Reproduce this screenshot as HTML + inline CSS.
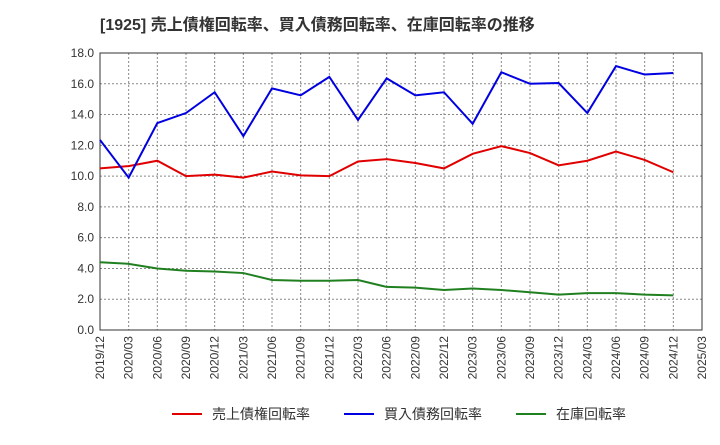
<!DOCTYPE html>
<html><head><meta charset="utf-8"><style>
body{margin:0;background:#fff;font-family:"Liberation Sans","Noto Sans CJK JP",sans-serif}
</style></head><body>
<svg width="720" height="440" xmlns="http://www.w3.org/2000/svg">
<text x="100" y="30" font-size="16" font-weight="bold" fill="#333" font-family="Liberation Sans, Noto Sans CJK JP, sans-serif">[1925]  売上債権回転率、買入債務回転率、在庫回転率の推移</text>
<g id="grid"></g><g id="axes"></g><g id="series"></g><g id="legend"></g>
</svg>
<script>
const categories=["2019/12","2020/03","2020/06","2020/09","2020/12","2021/03","2021/06","2021/09","2021/12","2022/03","2022/06","2022/09","2022/12","2023/03","2023/06","2023/09","2023/12","2024/03","2024/06","2024/09","2024/12","2025/03"];
const yTicks=[0,2,4,6,8,10,12,14,16,18];
const receivables=[10.5,10.65,11.0,10.0,10.1,9.9,10.3,10.05,10.0,10.95,11.1,10.85,10.5,11.45,11.95,11.5,10.7,11.0,11.6,11.05,10.25];
const payables=[12.35,9.9,13.45,14.1,15.45,12.6,15.7,15.25,16.45,13.65,16.35,15.25,15.45,13.4,16.75,16.0,16.05,14.1,17.15,16.6,16.7];
const inventory=[4.4,4.3,4.0,3.85,3.8,3.7,3.25,3.2,3.2,3.25,2.8,2.75,2.6,2.7,2.6,2.45,2.3,2.4,2.4,2.3,2.25];
const NS="http://www.w3.org/2000/svg";
const L=100,R=702,T=53,B=330;
const xs=i=>L+i*(R-L)/(categories.length-1);
const ys=v=>B-v/18*(B-T);
function mk(tag,attrs,parent){const e=document.createElementNS(NS,tag);for(const k in attrs)e.setAttribute(k,attrs[k]);document.getElementById(parent).appendChild(e);return e;}
const bg=mk('rect',{x:L,y:T,width:R-L,height:B-T,fill:'#fff',stroke:'#333'},'grid');


yTicks.forEach(v=>{
 const l=mk('line',{x1:L,x2:R,y1:ys(v),y2:ys(v),stroke:'#888','stroke-dasharray':'2,2'},'grid');
 
 
 const t=mk('text',{x:L-6,y:ys(v)+4,'text-anchor':'end','font-size':12,fill:'#333'},'axes');
 t.textContent=v.toFixed(1);
 
 
});
categories.forEach((c,i)=>{
 const l=mk('line',{x1:xs(i),x2:xs(i),y1:T,y2:B,stroke:'#888','stroke-dasharray':'2,2'},'grid');
 
 
 const t=mk('text',{x:xs(i)+4,y:B+6,'text-anchor':'end','font-size':12,fill:'#333',transform:`rotate(-90 ${xs(i)+4} ${B+6})`},'axes');
 t.textContent=c;
 
 
});
const frame=mk('rect',{x:L,y:T,width:R-L,height:B-T,fill:'none',stroke:'#333'},'axes');


function line(data,color,name){
 const p=mk('polyline',{points:data.map((v,i)=>xs(i)+','+ys(v)).join(' '),fill:'none',stroke:color,'stroke-width':2},'series');
 
 
}
line(receivables,'#e00000','receivables-turnover-line');
line(payables,'#0000e0','payables-turnover-line');
line(inventory,'#208020','inventory-turnover-line');
[["売上債権回転率","#e00000",172,"legend-receivables"],["買入債務回転率","#0000e0",344,"legend-payables"],["在庫回転率","#208020",516,"legend-inventory"]].forEach(([lab,col,x,n])=>{
 const g=mk('g',{},'legend');
 
 
 const ln=document.createElementNS(NS,'line');
 ln.setAttribute('x1',x);ln.setAttribute('x2',x+30);ln.setAttribute('y1',414);ln.setAttribute('y2',414);ln.setAttribute('stroke',col);ln.setAttribute('stroke-width',2);
 g.appendChild(ln);
 const t=document.createElementNS(NS,'text');
 t.setAttribute('x',x+40);t.setAttribute('y',419);t.setAttribute('font-size',14);t.setAttribute('fill','#333');
 t.textContent=lab;g.appendChild(t);
});
</script>
</body></html>
